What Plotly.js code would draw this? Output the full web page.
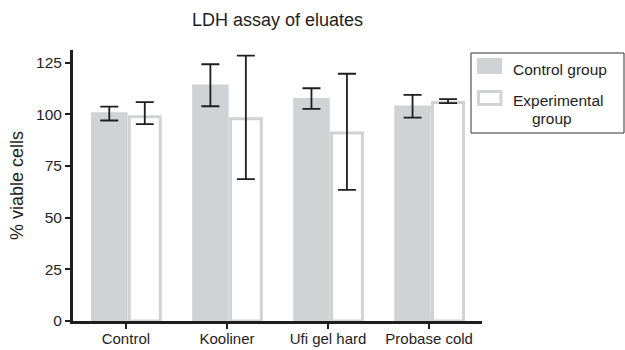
<!DOCTYPE html>
<html>
<head>
<meta charset="utf-8">
<script src="https://cdn.plot.ly/plotly-3.0.1.min.js"></script>
<style>html,body{margin:0;padding:0;background:#fff;}#chart{width:625px;height:350px;}</style>
</head>
<body>
<div id="chart"></div>
<script>
// ---- data ----
var categories = ['Control', 'Kooliner', 'Ufi gel hard', 'Probase cold'];
var seriesNames = ['Control group', 'Experimental group'];
var controlValues = [101.0, 114.4, 108.0, 104.3];
var controlErrPlus = [2.7, 9.8, 4.6, 5.1];
var controlErrMinus = [4.0, 10.5, 5.4, 5.9];
var experimentalValues = [98.8, 97.9, 91.0, 105.7];
var experimentalErrPlus = [7.1, 30.5, 28.6, 1.6];
var experimentalErrMinus = [3.6, 29.3, 27.6, 0.3];
var yTicks = [0, 25, 50, 75, 100, 125];

var FONT = 'Liberation Sans, Arial, Helvetica, sans-serif';
var GRAY = '#d1d2d4';
var INK = '#1e1e1e';

var errStyle = {color: INK, thickness: 1.8, width: 9};

var traces = [
  {
    type: 'bar', name: seriesNames[0], x: categories, y: controlValues,
    offset: -0.345, width: 0.362,
    marker: {color: GRAY, line: {width: 0}},
    error_y: Object.assign({type: 'data', symmetric: false, array: controlErrPlus, arrayminus: controlErrMinus}, errStyle),
    showlegend: false, hoverinfo: 'skip'
  },
  {
    type: 'bar', name: seriesNames[1], x: categories, y: experimentalValues,
    offset: 0.034, width: 0.306,
    marker: {color: '#ffffff', line: {color: GRAY, width: 3}},
    error_y: Object.assign({type: 'data', symmetric: false, array: experimentalErrPlus, arrayminus: experimentalErrMinus}, errStyle),
    showlegend: false, hoverinfo: 'skip'
  }
];

// plot area in pixels
var L = 73, R = 482, T = 50, B = 321;
function px(xp) { return (xp - L) / (R - L); }
function py(yp) { return (B - yp) / (B - T); }

var shapes = [
  // legend frame
  {type: 'rect', xref: 'paper', yref: 'paper', x0: px(471), x1: px(624), y0: py(133), y1: py(53),
   line: {color: '#333', width: 1}, fillcolor: 'rgba(0,0,0,0)'},
  // swatches
  {type: 'rect', xref: 'paper', yref: 'paper', x0: px(477), x1: px(502), y0: py(74), y1: py(58),
   line: {width: 0}, fillcolor: GRAY},
  {type: 'rect', xref: 'paper', yref: 'paper', x0: px(478.5), x1: px(501), y0: py(104.5), y1: py(91.5),
   line: {color: GRAY, width: 3}, fillcolor: '#ffffff'}
];

var annotations = [
  {xref: 'paper', yref: 'paper', x: px(511), y: py(69.5), xanchor: 'left', yanchor: 'middle',
   text: seriesNames[0], showarrow: false, font: {family: FONT, size: 15.5, color: INK}},
  {xref: 'paper', yref: 'paper', x: px(511), y: py(100), xanchor: 'left', yanchor: 'middle',
   text: 'Experimental', showarrow: false, font: {family: FONT, size: 15.5, color: INK}},
  {xref: 'paper', yref: 'paper', x: px(530), y: py(118.5), xanchor: 'left', yanchor: 'middle',
   text: 'group', showarrow: false, font: {family: FONT, size: 15.5, color: INK}}
];

var layout = {
  width: 625, height: 350,
  margin: {l: L, r: 625 - R, t: T, b: 350 - B},
  paper_bgcolor: '#ffffff', plot_bgcolor: '#ffffff',
  barmode: 'overlay',
  showlegend: false,
  font: {family: FONT, color: INK},
  title: {text: 'LDH assay of eluates', font: {family: FONT, size: 18, color: INK},
          x: 0.5, xref: 'paper', xanchor: 'center', y: 1 - 19.5 / 350, yref: 'container', yanchor: 'middle'},
  xaxis: {
    type: 'category', range: [-0.523, 3.523],
    showline: true, linecolor: INK, linewidth: 3,
    ticks: 'outside', ticklen: 5, tickwidth: 2.3, tickcolor: INK,
    ticklabelstandoff: -3,
    tickfont: {family: FONT, size: 15, color: INK},
    showgrid: false, zeroline: false, fixedrange: true
  },
  yaxis: {
    range: [0, 131.1], tickvals: yTicks, ticktext: yTicks.map(String),
    showline: true, linecolor: INK, linewidth: 3,
    ticks: 'outside', ticklen: 5, tickwidth: 2, tickcolor: INK,
    tickfont: {family: FONT, size: 15.5, color: INK},
    showgrid: false, zeroline: false, fixedrange: true,
    title: {text: '% viable cells', font: {family: FONT, size: 18, color: INK}, standoff: 8}
  },
  shapes: shapes,
  annotations: annotations
};

Plotly.newPlot('chart', traces, layout, {staticPlot: true, displayModeBar: false});
</script>
</body>
</html>
